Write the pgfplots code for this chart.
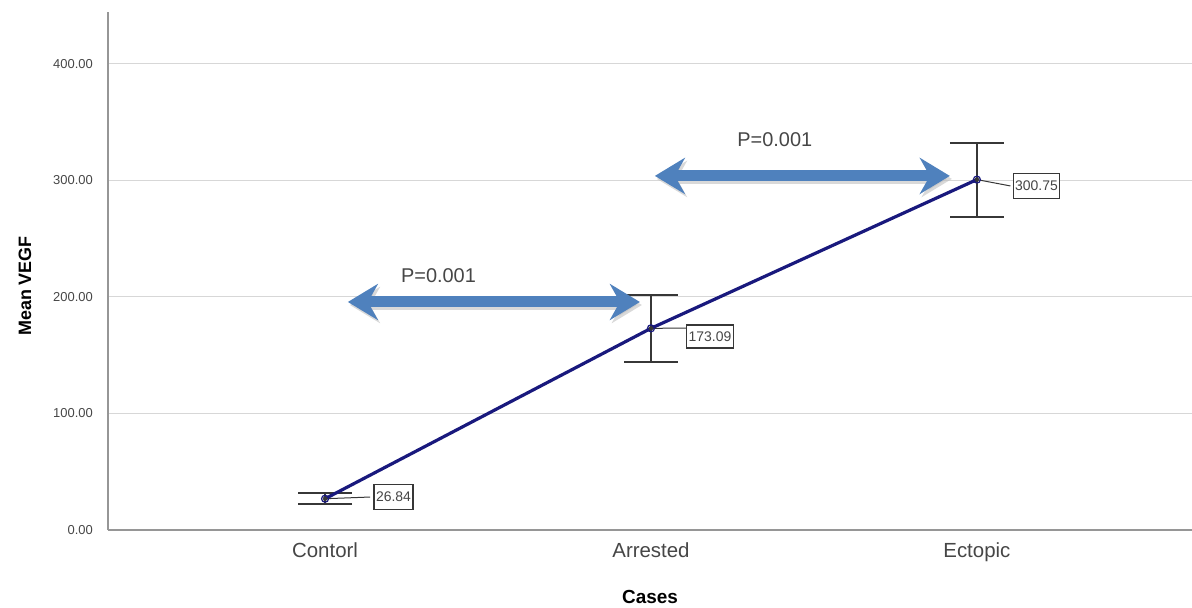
\documentclass[border=0pt]{standalone}
\usepackage{fontspec}
\setmainfont{Liberation Sans}
\usepackage{pgfplots}
\pgfplotsset{compat=1.18}
\usetikzlibrary{arrows.meta}
\definecolor{navy}{RGB}{25,25,125}
\definecolor{arrowblue}{RGB}{79,129,189}
\definecolor{axgray}{RGB}{150,150,150}
\definecolor{gridgray}{RGB}{215,215,215}
\definecolor{txtgray}{RGB}{70,70,70}
\definecolor{bargray}{RGB}{55,55,55}
\begin{document}
\begin{tikzpicture}
\useasboundingbox (0,0) rectangle (1192bp,608bp);
\begin{axis}[
  at={(108bp,78bp)}, anchor=south west,
  scale only axis, width=1084bp, height=518bp,
  xmin=-0.666, xmax=2.66, ymin=0, ymax=444.6,
  axis x line*=bottom, axis y line*=left,
  axis line style={-, axgray, line width=1.5bp},
  xtick={0,1,2}, xticklabels={Contorl,Arrested,Ectopic},
  ytick={0,100,200,300,400},
  ymajorgrids, grid style={gridgray, line width=1bp},
  major tick length=0pt,
  /pgf/number format/assume math mode=true,
  yticklabel={\pgfmathprintnumber[fixed,fixed zerofill,precision=2]{\tick}},
  yticklabel style={anchor=east, inner sep=0pt, xshift=-15bp, text=txtgray, font=\fontsize{13}{15}\selectfont},
  xticklabel style={anchor=center, yshift=-22bp, text height=14bp, text depth=4bp, text=txtgray, font=\fontsize{20.5}{24}\selectfont},
  xlabel={\textbf{Cases}},
  xlabel style={at={(axis description cs:0.5,0)}, anchor=center, yshift=-67bp, font=\fontsize{19}{23}\selectfont, text=black},
  ylabel={\textbf{Mean VEGF}},
  ylabel style={at={(axis description cs:0,0.471)}, anchor=center, rotate=0, yshift=83bp, font=\fontsize{18}{22}\selectfont, text=black},
  clip=false,
]
% error bars
\addplot[bargray, only marks, mark=none, forget plot,
  error bars/.cd, y dir=both, y explicit,
  error bar style={line width=2bp, draw=bargray},
  error mark options={rotate=90, mark size=27bp, line width=2bp, draw=bargray}]
  table[x=x, y=y, y error=e] {
x y e
0 26.84 4.6
1 173.09 29.0
2 300.75 31.7
};
% mean line
\addplot[navy, line width=3.2bp, mark=o, mark size=3.5bp, mark options={line width=1.2bp, fill=navy!25}]
  table[x=x, y=y] {
x y
0 26.84
1 173.09
2 300.75
};
% arrows (shadow + arrow)
\draw[black!25, opacity=0.6, line width=11bp, {Stealth[length=30bp,width=36bp,inset=10bp]}-{Stealth[length=30bp,width=36bp,inset=10bp]}]
  ([xshift=2bp,yshift=-3bp]axis cs:0.07,195.7) -- ([xshift=2bp,yshift=-3bp]axis cs:0.966,195.7);
\draw[arrowblue, line width=11bp, {Stealth[length=30bp,width=36bp,inset=10bp]}-{Stealth[length=30bp,width=36bp,inset=10bp]}]
  (axis cs:0.07,195.7) -- (axis cs:0.966,195.7);
\draw[black!25, opacity=0.6, line width=11bp, {Stealth[length=30bp,width=36bp,inset=10bp]}-{Stealth[length=30bp,width=36bp,inset=10bp]}]
  ([xshift=2bp,yshift=-3bp]axis cs:1.012,303.9) -- ([xshift=2bp,yshift=-3bp]axis cs:1.917,303.9);
\draw[arrowblue, line width=11bp, {Stealth[length=30bp,width=36bp,inset=10bp]}-{Stealth[length=30bp,width=36bp,inset=10bp]}]
  (axis cs:1.012,303.9) -- (axis cs:1.917,303.9);
\node[text=txtgray, font=\fontsize{20}{24}\selectfont] at (axis cs:0.348,218) {P=0.001};
\node[text=txtgray, font=\fontsize{20}{24}\selectfont] at (axis cs:1.38,335) {P=0.001};
% value labels
\draw[bargray, line width=1bp] (axis cs:0,26.84) -- (axis cs:0.138,28.3);
\draw[bargray, line width=1bp] (axis cs:1,173.09) -- (axis cs:1.107,173.3);
\draw[bargray, line width=1bp] (axis cs:2,300.75) -- (axis cs:2.103,295.3);
\node[draw=bargray, line width=1.2bp, fill=white, inner sep=2bp, minimum height=25bp, text=txtgray, font=\fontsize{14}{16}\selectfont] at (axis cs:0.21,28.3) {26.84};
\node[draw=bargray, line width=1.2bp, fill=white, inner sep=2bp, minimum height=23bp, text=txtgray, font=\fontsize{14}{16}\selectfont] at (axis cs:1.181,166.1) {173.09};
\node[draw=bargray, line width=1.2bp, fill=white, inner sep=2bp, minimum height=25bp, text=txtgray, font=\fontsize{14}{16}\selectfont] at (axis cs:2.183,295.3) {300.75};
\end{axis}
\end{tikzpicture}
\end{document}
